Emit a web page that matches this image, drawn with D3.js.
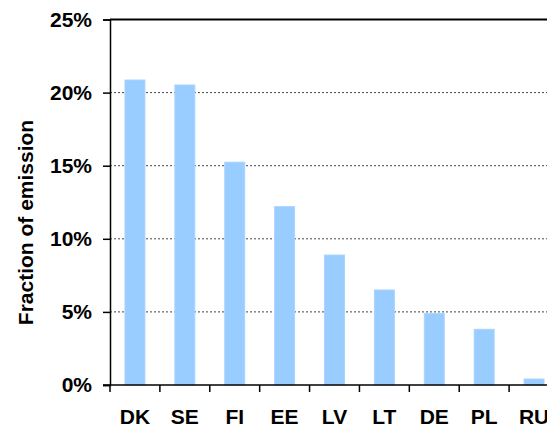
<!DOCTYPE html>
<html><head><meta charset="utf-8">
<script src="https://cdn.jsdelivr.net/npm/d3@7"></script>
<style>body{margin:0;background:#fff;}svg{display:block;}text{font-family:"Liberation Sans",Arial,sans-serif;font-weight:bold;}</style>
</head><body>
<svg id="c" width="547" height="428"></svg>
<script>
const categories = ["DK","SE","FI","EE","LV","LT","DE","PL","RU"];
const values = [0.2086, 0.2052, 0.1524, 0.1220, 0.0889, 0.0650, 0.0490, 0.0381, 0.0041];
const yTicks = [0, 0.05, 0.10, 0.15, 0.20, 0.25];
const yTitle = "Fraction of emission";

const svg = d3.select("#c");
const L = 110, R = 559, T = 19.5, B = 385;
const x = d3.scaleBand().domain(categories).range([L, R]).paddingInner(0.6).paddingOuter(0.3);
const y = d3.scaleLinear().domain([0, 0.25]).range([B, T]);
const step = x.step();

// gridlines
svg.append("g").selectAll("line").data(yTicks.filter(d => d > 0 && d < 0.25)).join("line")
  .attr("x1", L).attr("x2", R).attr("y1", d => y(d)).attr("y2", d => y(d))
  .attr("stroke", "#444").attr("stroke-width", 1).attr("stroke-dasharray", "2,2");

// bars
svg.append("g").selectAll("rect").data(values).join("rect")
  .attr("x", (d, i) => x(categories[i])).attr("width", x.bandwidth())
  .attr("y", d => y(d)).attr("height", d => B - y(d))
  .attr("fill", "#99ccff").attr("stroke", "#a9d4ff").attr("stroke-width", 1);

// top border
svg.append("line").attr("x1", L).attr("x2", R).attr("y1", T).attr("y2", T)
  .attr("stroke", "#000").attr("stroke-width", 2);

// y axis
const yAxis = d3.axisLeft(y).tickValues(yTicks).tickFormat(d3.format(".0%")).tickSize(7).tickPadding(11);
const gy = svg.append("g").attr("transform", `translate(${L},0)`).call(yAxis);
gy.select(".domain").attr("stroke", "#000").attr("stroke-width", 1.5);
gy.selectAll(".tick line").attr("stroke", "#000").attr("stroke-width", 1.5);
gy.selectAll(".tick text").attr("font-size", 21).attr("fill", "#000").attr("font-family", "'Liberation Sans',Arial,sans-serif").attr("font-weight", "bold");

// x axis line
svg.append("line").attr("x1", L - 7).attr("x2", R).attr("y1", B).attr("y2", B)
  .attr("stroke", "#000").attr("stroke-width", 1.5);
// x ticks at category boundaries
const bounds = categories.map(c => x(c) - step * 0.3);
svg.append("g").selectAll("line").data(bounds).join("line")
  .attr("x1", d => d).attr("x2", d => d).attr("y1", B).attr("y2", B + 7)
  .attr("stroke", "#000").attr("stroke-width", 1.5);
// x labels
svg.append("g").selectAll("text").data(categories).join("text")
  .attr("x", d => x(d) + x.bandwidth() / 2).attr("y", 424)
  .attr("text-anchor", "middle").attr("font-size", 21).attr("fill", "#000")
  .text(d => d);

// y title
svg.append("text").attr("transform", "translate(33,222.5) rotate(-90)")
  .attr("text-anchor", "middle").attr("font-size", 21).attr("fill", "#000")
  .text(yTitle);
</script>
</body></html>
